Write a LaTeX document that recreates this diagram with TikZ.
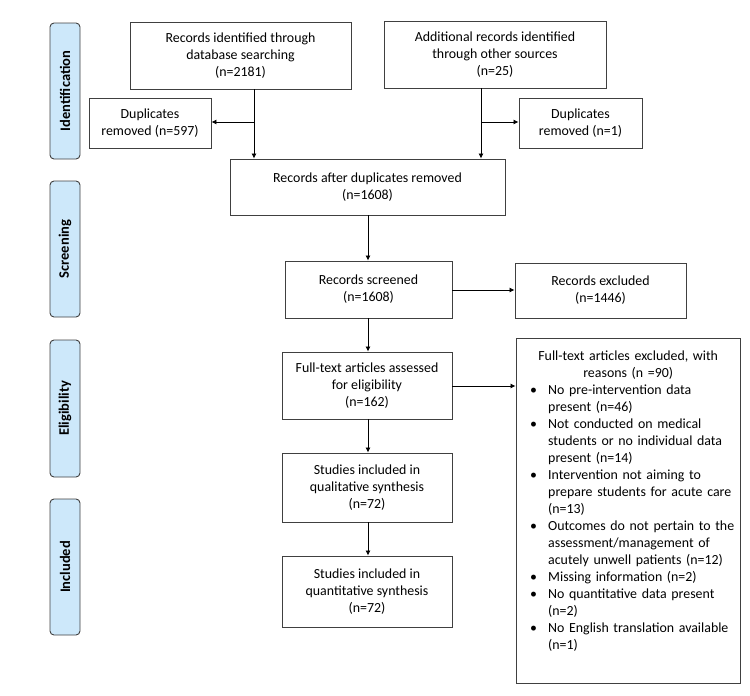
\documentclass[tikz,border=0pt]{standalone}
\usepackage{fontspec}
\setmainfont{Carlito}
\usetikzlibrary{arrows.meta}
\definecolor{bord}{HTML}{404040}
\definecolor{phase}{HTML}{CDE8FA}
\begin{document}
\begin{tikzpicture}[x=1pt,y=-1pt,
  every node/.style={font=\fontsize{13.9}{17}\selectfont},
  box/.style={draw=bord,line width=0.9pt,fill=white,inner sep=0pt,align=center,anchor=center},
  phasebar/.style={draw=bord,line width=0.9pt,fill=phase,rounded corners=4pt,minimum width=30pt,inner sep=0pt,anchor=center},
  phasetext/.style={rotate=90,font=\fontsize{14.5}{16}\selectfont\bfseries},
  arr/.style={draw=black,line width=0.8pt,-{Latex[length=5pt,width=5pt]}},
  ln/.style={draw=black,line width=0.8pt}]
\useasboundingbox (0,0) rectangle (750,696);
% phase bars
\node[phasebar,minimum height=136pt] (pid) at (65,91) {};
\node[phasetext] (tid) at (pid.center) {Identification};
\node[phasebar,minimum height=136pt] (psc) at (65,249) {};
\node[phasetext] (tsc) at (psc.center) {Screening};
\node[phasebar,minimum height=137pt] (pel) at (65,408.5) {};
\node[phasetext] (tel) at (pel.center) {Eligibility};
\node[phasebar,minimum height=136pt] (pin) at (65,567) {};
\node[phasetext] (tin) at (pin.center) {Included};
% boxes
\node[box,minimum width=221pt,minimum height=67pt] (db) at (240.5,55.5) {Records identified through\\database searching\\(n=2181)};
\node[box,minimum width=222pt,minimum height=67pt] (oth) at (495,54.5) {Additional records identified\\through other sources\\(n=25)};
\node[box,minimum width=122pt,minimum height=50pt] (dupl) at (150,123) {Duplicates\\removed (n=597)};
\node[box,minimum width=123pt,minimum height=50pt] (dupr) at (580.5,123) {Duplicates\\removed (n=1)};
\node[box,minimum width=275pt,minimum height=56pt] (after) at (367.5,187) {Records after duplicates removed\\(n=1608)};
\node[box,minimum width=167pt,minimum height=57pt] (scr) at (368.5,289.5) {Records screened\\(n=1608)};
\node[box,minimum width=171pt,minimum height=55pt] (exc) at (600.5,290.5) {Records excluded\\(n=1446)};
\node[box,minimum width=170pt,minimum height=67pt] (full) at (367,385.5) {Full-text articles assessed\\for eligibility\\(n=162)};
\node[box,minimum width=170pt,minimum height=69pt] (qual) at (367,487.5) {Studies included in\\qualitative synthesis\\(n=72)};
\node[box,minimum width=170pt,minimum height=71pt] (quant) at (367,591.5) {Studies included in\\quantitative synthesis\\(n=72)};
\node[box,minimum width=224pt,minimum height=345pt] (ftx) at (628,510.5) {};
\node[anchor=north west,inner sep=0pt,text width=216pt,align=left] (ftxt) at (520,351) {%
  \centering Full-text articles excluded, with\\reasons (n =90)\par
  \raggedright
  \leftskip=28pt
  \def\itm{\hskip-18pt\makebox[18pt][l]{\textbullet}}%
  \itm No pre-intervention data\\present (n=46)\par
  \itm Not conducted on medical\\students or no individual data\\present (n=14)\par
  \itm Intervention not aiming to\\prepare students for acute care\\(n=13)\par
  \itm Outcomes do not pertain to the\\assessment/management of\\acutely unwell patients (n=12)\par
  \itm Missing information (n=2)\par
  \itm No quantitative data present\\(n=2)\par
  \itm No English translation available\\(n=1)\par};
% connectors
\coordinate (jl) at (254,122);
\coordinate (jr) at (481,122);
\draw[arr] (db.south -| jl) -- (after.north -| jl);
\draw[arr] (jl) -- (dupl.east |- jl);
\draw[arr] (oth.south -| jr) -- (after.north -| jr);
\draw[arr] (jr) -- (dupr.west |- jr);
\draw[arr] (after.south -| 368,0) -- (scr.north -| 368,0);
\draw[arr] (scr.east |- 0,290) -- (exc.west |- 0,290);
\draw[arr] (scr.south -| 368,0) -- (full.north -| 368,0);
\draw[arr] (full.east |- 0,386) -- (ftx.west |- 0,386);
\draw[arr] (full.south -| 368,0) -- (qual.north -| 368,0);
\draw[arr] (qual.south -| 368,0) -- (quant.north -| 368,0);
\end{tikzpicture}
\end{document}
